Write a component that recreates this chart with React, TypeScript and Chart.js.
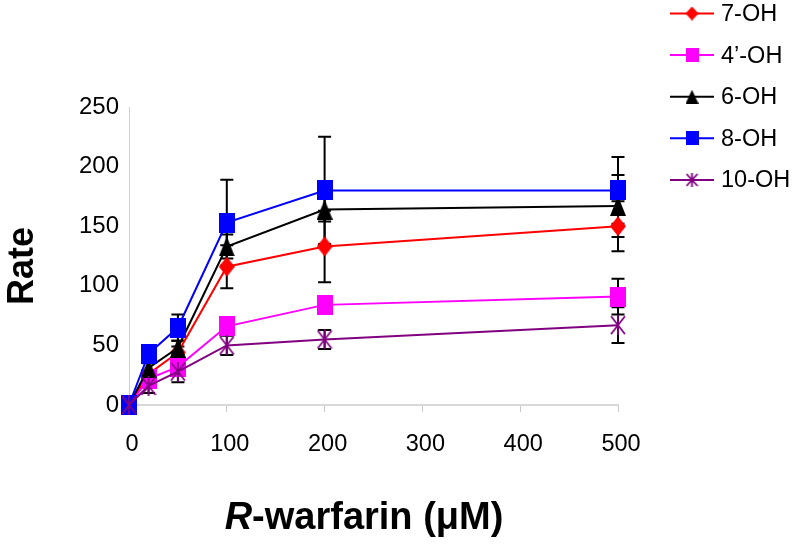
import React, { useEffect, useRef } from 'react';
import { Chart, registerables } from 'chart.js';

Chart.register(...registerables);

// ---- data ----
const xValues = [0, 20, 50, 100, 200, 500];
const seriesNames = ['7-OH', '4\u2019-OH', '6-OH', '8-OH', '10-OH'];
const oh7 = [0, 26, 44, 116, 133, 150];
const oh4p = [0, 22, 32, 66, 84, 91];
const oh6 = [0, 31, 48, 133, 164, 167];
const oh8 = [0, 43, 65, 153, 180, 180];
const oh10 = [0, 16, 28, 50, 55, 67];
const err7 = [0, 3, 5, 18, 30, 21];
const err4p = [0, 3, 5, 5, 6, 15];
const err6 = [0, 4, 6, 10, 10, 26];
const err8 = [0, 5, 11, 36, 45, 28];
const err10 = [0, 6, 9, 8, 8, 15];
const xTickStep = 100;
const yTickStep = 50;
const xMax = 500;
const yMax = 250;
const xTitleItalic = 'R';
const xTitleRest = '-warfarin (\u03bcM)';
const yTitle = 'Rate';

const colors = ['#ff0000', '#ff00ff', '#000000', '#0000ff', '#800080'];
const markerKinds = ['diamond', 'square', 'triangle', 'square', 'star'];
const seriesValues = [oh7, oh4p, oh6, oh8, oh10];
const seriesErrors = [err7, err4p, err6, err8, err10];

const FONT = '"Liberation Sans", Arial, Helvetica, sans-serif';

function makeMarker(kind: string, color: string, w: number, h: number): HTMLCanvasElement {
  const c = document.createElement('canvas');
  c.width = w;
  c.height = h;
  const g = c.getContext('2d')!;
  g.fillStyle = color;
  g.strokeStyle = color;
  if (kind === 'square') {
    g.fillRect(0, 0, w, h);
  } else if (kind === 'diamond') {
    g.beginPath();
    g.moveTo(w / 2, 0);
    g.lineTo(w, h / 2);
    g.lineTo(w / 2, h);
    g.lineTo(0, h / 2);
    g.closePath();
    g.fill();
  } else if (kind === 'triangle') {
    g.beginPath();
    g.moveTo(w / 2, 0);
    g.lineTo(w, h);
    g.lineTo(0, h);
    g.closePath();
    g.fill();
  } else if (kind === 'star') {
    g.lineWidth = 1.8;
    g.beginPath();
    g.moveTo(1, 1);
    g.lineTo(w - 1, h - 1);
    g.moveTo(w - 1, 1);
    g.lineTo(1, h - 1);
    g.moveTo(w / 2, 0);
    g.lineTo(w / 2, h);
    g.stroke();
  }
  return c;
}

export default function App() {
  const ref = useRef<HTMLCanvasElement | null>(null);

  useEffect(() => {
    if (!ref.current) return;
    const markers = markerKinds.map((k, i) => makeMarker(k, colors[i], 16, 20));
    const legendMarkers = markerKinds.map((k, i) => makeMarker(k, colors[i], 13, 14));

    const datasets = seriesNames.map((name, i) => ({
      label: name,
      data: xValues.map((x, j) => ({ x, y: seriesValues[i][j] })),
      borderColor: colors[i],
      backgroundColor: colors[i],
      borderWidth: 2,
      pointStyle: markers[i] as any,
      pointRadius: 8,
      pointHoverRadius: 8,
      order: seriesNames.length - i,
      tension: 0,
      clip: false as any,
    }));

    const errorBars = {
      id: 'errorBars',
      beforeDatasetsDraw(chart: any) {
        const { ctx, scales } = chart;
        const xs = scales.x;
        const ys = scales.y;
        ctx.save();
        ctx.strokeStyle = '#000';
        ctx.lineWidth = 2;
        seriesValues.forEach((vals, i) => {
          const errs = seriesErrors[i];
          vals.forEach((v, j) => {
            const e = errs[j];
            if (!e) return;
            const px = xs.getPixelForValue(xValues[j]);
            const top = ys.getPixelForValue(v + e);
            const bot = ys.getPixelForValue(v - e);
            ctx.beginPath();
            ctx.moveTo(px, top);
            ctx.lineTo(px, bot);
            ctx.moveTo(px - 6.5, top);
            ctx.lineTo(px + 6.5, top);
            ctx.moveTo(px - 6.5, bot);
            ctx.lineTo(px + 6.5, bot);
            ctx.stroke();
          });
        });
        ctx.restore();
      },
    };

    const decorations = {
      id: 'decorations',
      afterDraw(chart: any) {
        const { ctx } = chart;
        ctx.save();
        // legend
        const lx0 = 670;
        const lx1 = 714;
        const ly0 = 13.5;
        const lstep = 41.6;
        seriesNames.forEach((name, i) => {
          const y = ly0 + i * lstep;
          ctx.strokeStyle = colors[i];
          ctx.lineWidth = 2;
          ctx.beginPath();
          ctx.moveTo(lx0, y);
          ctx.lineTo(lx1, y);
          ctx.stroke();
          const m = legendMarkers[i];
          ctx.drawImage(m, 692 - m.width / 2, y - m.height / 2);
          ctx.fillStyle = '#000';
          ctx.font = `23.5px ${FONT}`;
          ctx.textAlign = 'left';
          ctx.textBaseline = 'middle';
          ctx.fillText(name, 721, y + 1);
        });
        // y title
        ctx.save();
        ctx.translate(33, 266);
        ctx.rotate(-Math.PI / 2);
        ctx.font = `bold 36px ${FONT}`;
        ctx.fillStyle = '#000';
        ctx.textAlign = 'center';
        ctx.textBaseline = 'alphabetic';
        ctx.fillText(yTitle, 0, 0);
        ctx.restore();
        // x title
        const fItal = `italic bold 38px ${FONT}`;
        const fBold = `bold 38px ${FONT}`;
        ctx.font = fItal;
        const w1 = ctx.measureText(xTitleItalic).width;
        ctx.font = fBold;
        const w2 = ctx.measureText(xTitleRest).width;
        const start = 364 - (w1 + w2) / 2;
        ctx.textAlign = 'left';
        ctx.textBaseline = 'alphabetic';
        ctx.fillStyle = '#000';
        ctx.font = fItal;
        ctx.fillText(xTitleItalic, start, 529);
        ctx.font = fBold;
        ctx.fillText(xTitleRest, start + w1, 529);
        ctx.restore();
      },
    };

    const chart = new Chart(ref.current, {
      type: 'line',
      data: { datasets: datasets as any },
      options: {
        animation: false,
        responsive: false,
        layout: { padding: { left: 0, top: 107, right: 182, bottom: 0 } },
        plugins: {
          legend: { display: false },
          tooltip: { enabled: false },
        },
        scales: {
          x: {
            type: 'linear',
            min: 0,
            max: xMax,
            ticks: {
              stepSize: xTickStep,
              color: '#000',
              font: { family: FONT, size: 23.5 },
              padding: 18,
              labelOffset: 3,
              maxRotation: 0,
              autoSkip: false,
            },
            grid: {
              display: true,
              drawOnChartArea: false,
              drawTicks: true,
              tickLength: 7,
              color: '#c8c8c8',
              lineWidth: 1,
            },
            border: { display: true, color: '#d8d8d8', width: 2 },
            afterFit: (s: any) => {
              s.height = 144;
            },
          },
          y: {
            type: 'linear',
            min: 0,
            max: yMax,
            ticks: {
              stepSize: yTickStep,
              color: '#000',
              font: { family: FONT, size: 24 },
              padding: 10,
            },
            grid: { display: false, drawTicks: false },
            border: { display: true, color: '#d0d0d0', width: 1 },
            afterFit: (s: any) => {
              s.width = 129;
            },
          },
        },
      } as any,
      plugins: [errorBars, decorations],
    });
    return () => chart.destroy();
  }, []);

  return (
    <div style={{ position: 'absolute', left: 0, top: 0, width: 800, height: 549, background: '#fff' }}>
      <canvas ref={ref} width={800} height={549} style={{ display: 'block' }} />
    </div>
  );
}
